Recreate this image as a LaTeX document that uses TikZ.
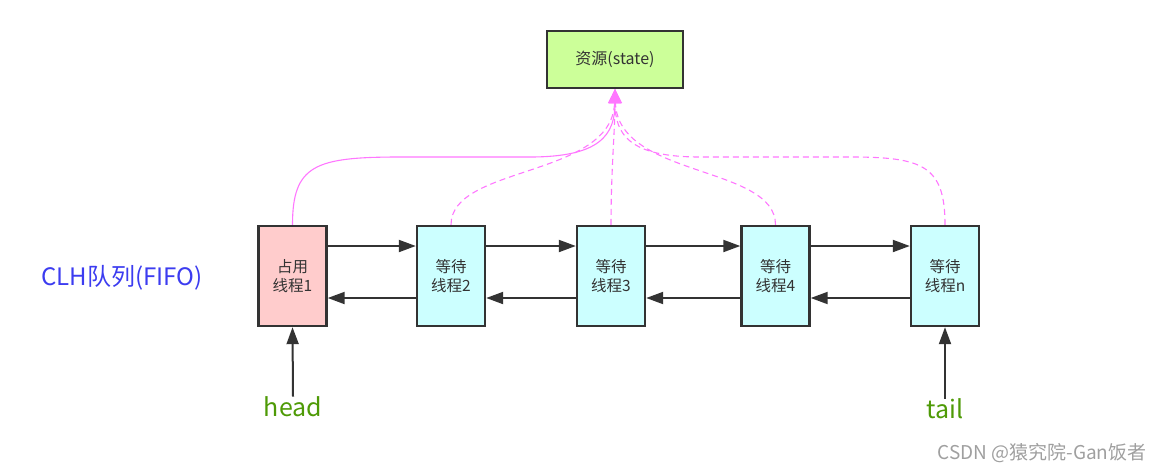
\documentclass[tikz,border=0pt]{standalone}
\usepackage{fontspec}
\setmainfont{Noto Sans CJK SC}
\usetikzlibrary{positioning,arrows.meta}

\definecolor{edgegray}{HTML}{333333}
\definecolor{busyred}{HTML}{FFCCCC}
\definecolor{waitcyan}{HTML}{CCFFFF}
\definecolor{stategreen}{HTML}{CCFF99}
\definecolor{linkpink}{HTML}{FF77FF}
\definecolor{queueblue}{HTML}{3C3CF0}
\definecolor{ptrgreen}{HTML}{4E9A06}

\begin{document}
\begin{tikzpicture}[x=1pt,y=-1pt]
                        \tikzstyle{every node}=[inner sep=0,text=edgegray]
                        \tikzstyle{box}=[draw=edgegray,line width=2.4,rectangle,align=center,font=\fontsize{15.5}{19}\selectfont]
                        \tikzstyle{thread}=[box,minimum width=68,minimum height=100,fill=waitcyan]
                        \tikzstyle{busy}=[thread,fill=busyred]
                        \tikzstyle{link}=[draw=edgegray,line width=2,-{Triangle[length=17,width=12]}]
                        \tikzstyle{hold}=[draw=linkpink,line width=1.1,-{Triangle[length=14,width=13]}]
                        \tikzstyle{wait}=[hold,dashed,dash pattern=on 6 off 4]
                        \tikzstyle{ptr}=[text=ptrgreen,font=\fontsize{25}{30}\selectfont]
                        \useasboundingbox (0,0) rectangle (1164,472);
                        {
                            \node[box,fill=stategreen,minimum width=136,minimum height=57,font=\fontsize{16}{19}\selectfont] (s) at (615,59.5) {资源(state)};

                            \node[busy] (t1) at (292.5,276) {占用\\线程1};
                            \foreach \name/\x/\label in {t2/451/2,t3/611/3,t4/775.5/4,tn/945/n} {
                                \node[thread] (\name) at (\x,276) {等待\\线程\label};
                            }

                            \node[text=queueblue,font=\fontsize{24}{28}\selectfont] (clh) at (122,278) {CLH队列(FIFO)};
                            \node[ptr] (head) at (293,407) {head};
                            \node[ptr] (tail) at (945,409) {tail};
                            \node[text=gray!75,font=\fontsize{19}{22}\selectfont] (mark) at (1042,453) {CSDN @猿究院-Gan饭者};

                            \foreach \a/\b in {t1/t2,t2/t3,t3/t4,t4/tn} {
                                \draw[link] ([yshift=30]\a.east) -- ([yshift=30]\b.west);
                                \draw[link] ([yshift=-22]\b.west) -- ([yshift=-22]\a.east);
                            }
                            \draw[link] (head.north) -- (t1.south);
                            \draw[link] (tail.north) -- (tn.south);

                            % threads pointing at the shared state
                            \draw[hold] (t1.north) .. controls (292.5,165) and (315,157) .. (400,157) -- (530,157)
                                .. controls (600,157) and (615,135) .. (s.south);
                            \draw[wait] (t2.north) .. controls (451,165) and (612,178) .. (s.south);
                            \draw[wait] (t3.north) .. controls (611,170) and (615,130) .. (s.south);
                            \draw[wait] (t4.north) .. controls (775.5,165) and (618,178) .. (s.south);
                            \draw[wait] (tn.north) .. controls (945,165) and (922,157) .. (850,157) -- (700,157)
                                .. controls (630,157) and (615,135) .. (s.south);
                        }
                    \end{tikzpicture}
\end{document}
